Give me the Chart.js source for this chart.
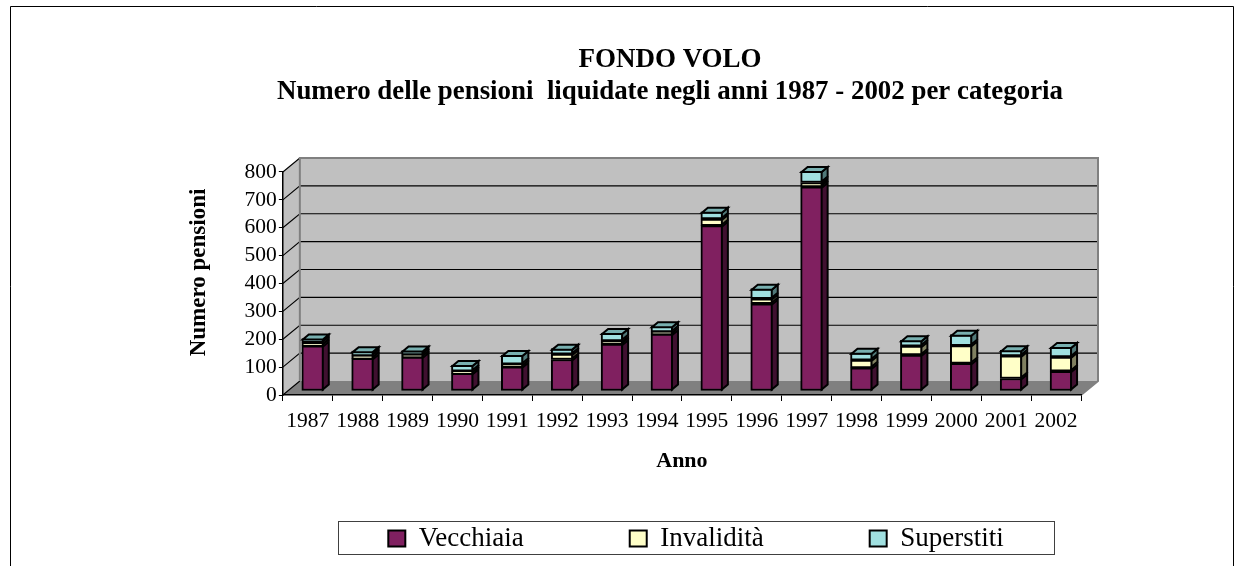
<!DOCTYPE html>
<html><head><meta charset="utf-8">
<style>html,body{margin:0;padding:0;background:#fff}#w{width:1245px;height:566px}</style>
<script src="https://cdn.jsdelivr.net/npm/chart.js@4"></script></head>
<body><div id="w"><canvas id="c" width="1245" height="566"></canvas></div>
<script>
const categories=["1987","1988","1989","1990","1991","1992","1993","1994","1995","1996","1997","1998","1999","2000","2001","2002"];
const vecchiaia=[162,117,122,63,87,113,168,204,593,313,732,83,129,99,45,71];
const invalidita=[11,9,7,8,9,19,12,8,24,18,16,28,32,64,81,51];
const superstiti=[15,17,16,22,33,20,28,20,26,36,41,26,21,39,20,36];
const yTicks=[0,100,200,300,400,500,600,700,800];
const SERIF='"Liberation Serif","Times New Roman",serif';
const WALL={dx:17,dy:14}, BAR={sx:5,sy:4,dx:6,dy:5};
const sideCol=['#401030','#808060','#507878'], topCol='#78B0B0';
function poly(ctx,pts,fill,stroke,lw){ctx.beginPath();pts.forEach((p,i)=>i?ctx.lineTo(p[0],p[1]):ctx.moveTo(p[0],p[1]));ctx.closePath();
 if(fill){ctx.fillStyle=fill;ctx.fill();} if(stroke){ctx.strokeStyle=stroke;ctx.lineWidth=lw;ctx.lineJoin='miter';ctx.stroke();}}
const scene={id:'scene',
 beforeLayout(chart){const l=chart.legend; if(!l._w){l._w=1;const f=l.fit.bind(l);l.fit=function(){f();this.height=40;};}},
 afterLayout(chart){
  const t=chart.titleBlock; t.left=277;t.right=1063;
  const l=chart.legend; l.left=147;l.right=1245;l.top=525-106;l.bottom=566;
  const y=chart.scales.y;
  if(!y._shifted){y._shifted=1;const d=y.drawTitle.bind(y);y.drawTitle=function(){const c=this.ctx;c.save();c.translate(0,-11);d();c.restore();};}
 },
 beforeDraw(chart){
  const c=chart.ctx,y=chart.scales.y,a=chart.chartArea;
  const L=a.left,R=a.right,B=y.getPixelForValue(0),T=y.getPixelForValue(800),dx=WALL.dx,dy=WALL.dy;
  c.save();
  c.strokeStyle='#000';c.lineWidth=1;c.beginPath();c.moveTo(10.5,566);c.lineTo(10.5,6.5);c.lineTo(1233.5,6.5);c.lineTo(1233.5,566);c.stroke();
  poly(c,[[L,T],[L+dx,T-dy],[R+dx,T-dy],[R+dx,B-dy],[L+dx,B-dy],[L,B]],'#C0C0C0');
  poly(c,[[L,B],[L+dx,B-dy],[R+dx,B-dy],[R,B]],'#808080');
  c.strokeStyle='#000';c.lineWidth=1.1;c.beginPath();
  yTicks.forEach(v=>{if(v===0)return;const p=y.getPixelForValue(v);c.moveTo(L,p);c.lineTo(L+dx,p-dy);if(v<800){c.lineTo(R+dx,p-dy);}});
  c.moveTo(L,B);c.lineTo(L+dx,B-dy);c.stroke();
  c.strokeStyle='#808080';c.lineWidth=2;c.beginPath();c.moveTo(L+dx,B-dy);c.lineTo(L+dx,T-dy);c.lineTo(R+dx,T-dy);c.lineTo(R+dx,B-dy);c.lineTo(R,B);c.stroke();
  c.lineWidth=1;c.strokeStyle='#404040';c.strokeRect(338.5,521.5,716,33);
  c.restore();
 },
 beforeDatasetsDraw(chart){chart.ctx.save();chart.ctx.translate(BAR.sx,-BAR.sy);},
 afterDatasetDraw(chart,args){
  const c=chart.ctx,i=args.index,last=i===chart.data.datasets.length-1;
  args.meta.data.forEach(el=>{const p=el.getProps(['x','y','base','width'],true);
   const r=p.x+p.width/2-1,l=p.x-p.width/2+1,t=p.y+1,b=p.base-1,dx=BAR.dx,dy=BAR.dy;
   poly(c,[[r,b],[r+dx,b-dy],[r+dx,t-dy],[r,t]],sideCol[i],'#000',2);
   if(last)poly(c,[[l,t],[l+dx,t-dy],[r+dx,t-dy],[r,t]],topCol,'#000',2);
  });
 },
 afterDatasetsDraw(chart){chart.ctx.restore();}
};
const ds=(label,data,color)=>({label,data,backgroundColor:color,borderColor:'#000',borderWidth:2,borderSkipped:false,stack:'s',clip:false});
new Chart(document.getElementById('c'),{type:'bar',plugins:[scene],
 data:{labels:categories,datasets:[ds('Vecchiaia',vecchiaia,'#802060'),ds('Invalidità',invalidita,'#FFFFC8'),ds('Superstiti',superstiti,'#A0E0E0')]},
 options:{responsive:false,animation:false,
  layout:{padding:{left:185,right:164,top:0,bottom:51}},
  datasets:{bar:{barThickness:22}},
  plugins:{tooltip:{enabled:false},
   title:{display:true,text:['FONDO VOLO','Numero delle pensioni  liquidate negli anni 1987 - 2002 per categoria'],color:'#000',
    font:{family:SERIF,size:27,weight:'bold',lineHeight:1.185},padding:{top:44,bottom:64}},
   legend:{position:'bottom',labels:{color:'#000',font:{family:SERIF,size:27},boxWidth:17,boxHeight:16,padding:106}}},
  scales:{
   x:{stacked:true,afterFit(s){s.height=80;},
    grid:{drawOnChartArea:false,drawTicks:true,tickLength:6,color:'#000',offset:true},border:{color:'#000',width:1.5},
    ticks:{color:'#000',font:{family:SERIF,size:21.5},maxRotation:0,autoSkip:false,padding:7},
    title:{display:true,text:'Anno',color:'#000',font:{family:SERIF,size:22,weight:'bold'},padding:{top:14,bottom:0}}},
   y:{stacked:true,min:0,max:800,afterBuildTicks(s){s.ticks=yTicks.map(v=>({value:v}));},
    grid:{drawOnChartArea:false,drawTicks:true,tickLength:4,color:'#000'},border:{color:'#000',width:1.5},
    ticks:{color:'#000',font:{family:SERIF,size:21.5},padding:2,autoSkip:false},
    title:{display:true,text:'Numero pensioni',color:'#000',font:{family:SERIF,size:23,weight:'bold'},padding:{top:0,bottom:30}}}
  }}});
</script></body></html>
